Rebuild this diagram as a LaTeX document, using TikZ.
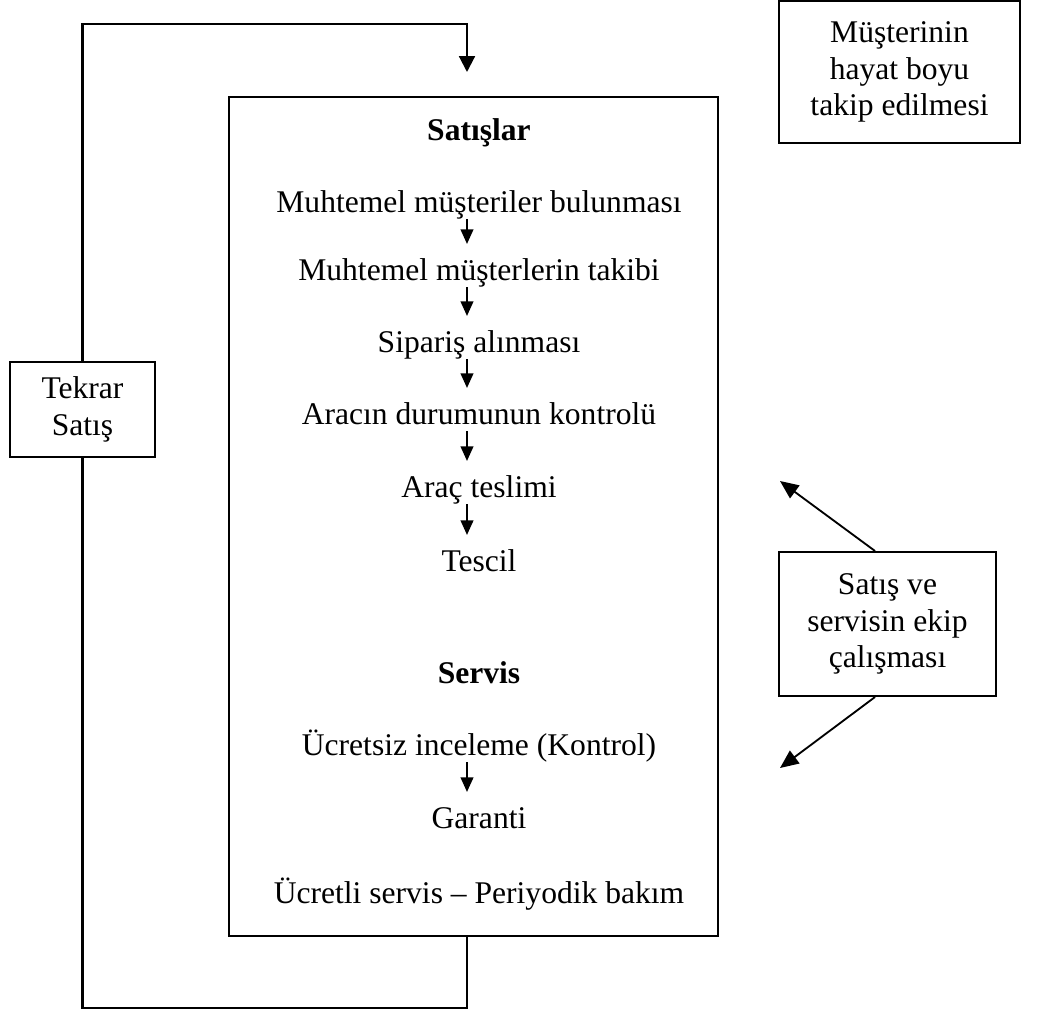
\documentclass[tikz,border=0pt]{standalone}
\usepackage{fontspec}
\setmainfont{Liberation Serif}
\usetikzlibrary{arrows.meta}

\tikzset{
    kutu/.style={draw, line width=0.8pt, align=center, inner sep=0pt},
    satir/.style={anchor=base, inner sep=0pt, text height=0.7em, text depth=0.25em},
    okk/.style={-{Triangle[width=4.8pt,length=5.5pt]}, line width=0.65pt, shorten >=6.5pt},
    okb/.style={-{Triangle[width=6pt,length=6pt]}, line width=0.8pt},
    oky/.style={-{Triangle[width=6pt,length=7pt]}, line width=0.7pt},
}

\begin{document}
\begin{tikzpicture}[x=0.38pt, y=-0.38pt, font=\fontsize{12}{13.8}\selectfont]
    \useasboundingbox (0,0) rectangle (1040,1011);

    % Cadre principal
    \node[kutu, minimum width=185.8pt, minimum height=318.8pt] (ana) at (473.5,516.5) {};
    \coordinate (kol) at (467,0);

    % Satışlar
    \node[satir] (sat) at (479,140) {\textbf{Satışlar}};
    \foreach \nom/\y/\txt in {m1/212/Muhtemel müşteriler bulunması, m2/280/Muhtemel müşterlerin takibi,
        sip/352/Sipariş alınması, arac/424/Aracın durumunun kontrolü, tes/497/Araç teslimi, tescil/571/Tescil} {
        \node[satir] (\nom) at (479,\y) {\txt};
    }

    % Servis
    \node[satir] (ser) at (479,683) {\textbf{Servis}};
    \foreach \nom/\y/\txt in {ucz/755/Ücretsiz inceleme (Kontrol), gar/828/Garanti, ucl/903/Ücretli servis – Periyodik bakım} {
        \node[satir] (\nom) at (479,\y) {\txt};
    }

    % Flèches
    \foreach \a/\b in {m1/m2, m2/sip, sip/arac, arac/tes, tes/tescil, ucz/gar} {
        \draw[okk] (\a.south -| kol) -- (\b.north -| kol);
    }

    % Tekrar satış
    \node[kutu, minimum width=55.1pt, minimum height=36.1pt] (tekrar) at (82.5,409.5) {Tekrar\\Satış};
    \coordinate (giris) at (467,72);
    \coordinate (alt) at (467,1008);
    \draw[okb] (tekrar.north) |- (giris |- 0,24) -- (giris);
    \draw[line width=0.8pt] (tekrar.south) |- (alt) -- (alt |- ana.south);

    % Boîtes à droite
    \node[kutu, minimum width=91.6pt, minimum height=54pt] (hayat) at (899.5,72) {Müşterinin\\hayat boyu\\takip edilmesi};
    \node[kutu, minimum width=82.5pt, minimum height=54.7pt] (ekip) at (887.5,624) {Satış ve\\servisin ekip\\çalışması};
    \coordinate (ust) at (780,481);
    \coordinate (asg) at (780,768);
    \draw[oky] ([xshift=-4.75pt]ekip.north) -- (ust);
    \draw[oky] ([xshift=-4.75pt]ekip.south) -- (asg);
\end{tikzpicture}
\end{document}
